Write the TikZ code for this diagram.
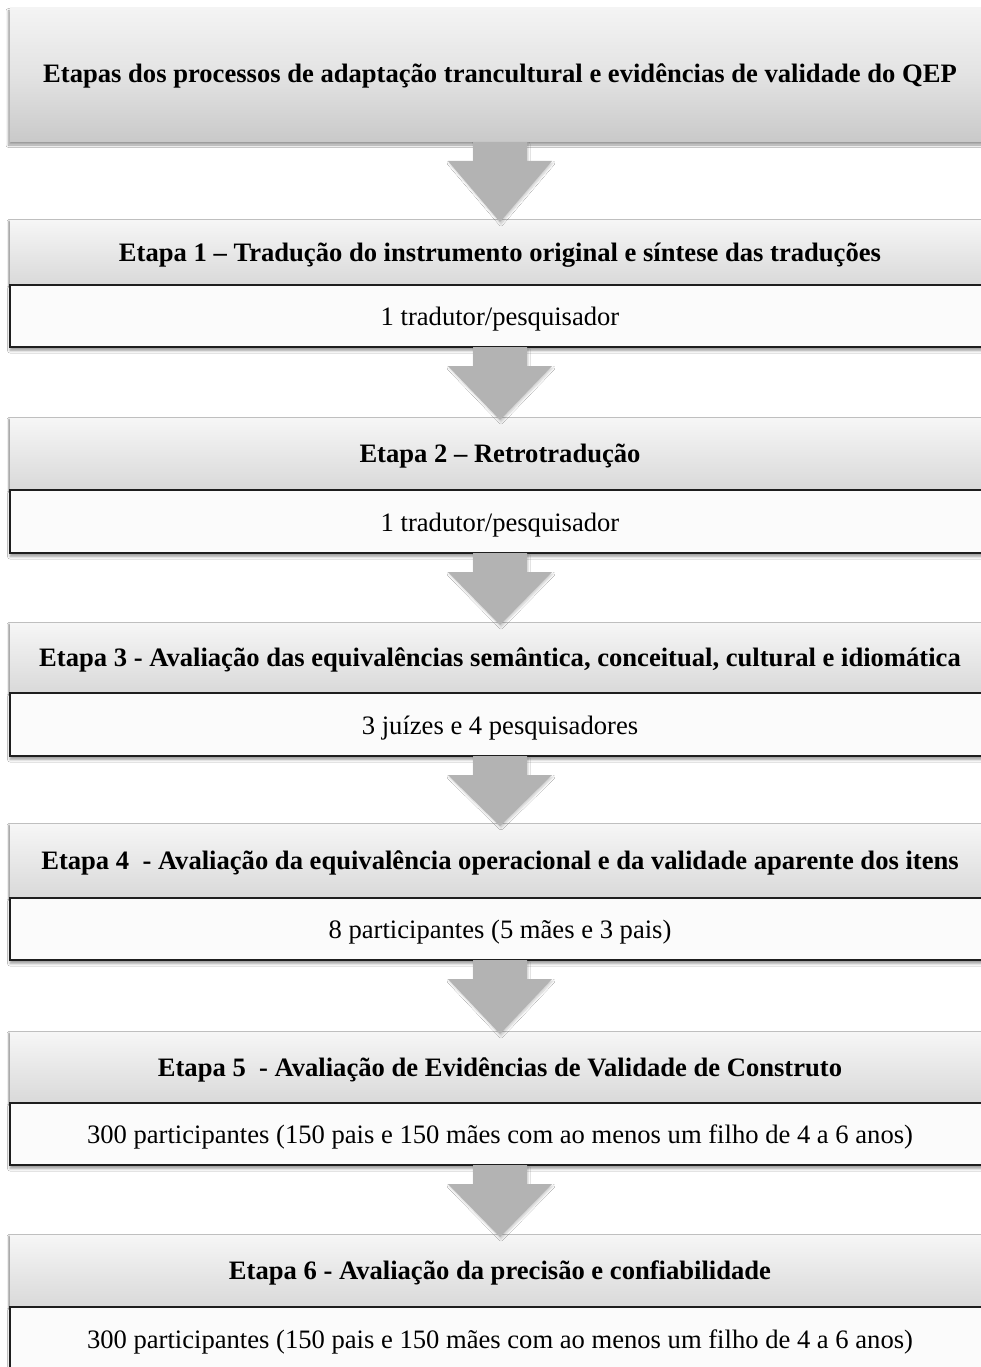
\documentclass[tikz,border=0pt]{standalone}
\usepackage{fontspec}
\setmainfont{Liberation Serif}
\usetikzlibrary{calc,shadows,shadows.blur}
\definecolor{ttop}{HTML}{F4F4F4}
\definecolor{tbot}{HTML}{C9C9C9}
\definecolor{htop}{HTML}{F6F6F6}
\definecolor{hbot}{HTML}{D9D9D9}
\definecolor{wfill}{HTML}{FBFBFB}
\definecolor{wline}{HTML}{1E1E1E}
\definecolor{afill}{HTML}{B3B3B3}
\newcommand{\flowarrow}[2]{%
  \path[bigarrow] ($(#1.south)+(-27,0)$) -- ($(#1.south)+(27,0)$) -- ($(#1.south)+(27,19)$)
    -- ($(#1.south)+(52,19)$) -- ($(#2.north)+(0,2)$) -- ($(#1.south)+(-52,19)$)
    -- ($(#1.south)+(-27,19)$) -- cycle;}
\begin{document}
\begin{tikzpicture}[x=1pt,y=-1pt,
  every node/.style={inner sep=0pt, outer sep=0pt},
  titlebox/.style={rectangle, anchor=north west, minimum width=980pt, minimum height=134pt,
    top color=ttop, bottom color=tbot, middle color=ttop!60!tbot,
    font=\fontsize{26.6}{30}\selectfont\bfseries, text height=23pt, text depth=7.5pt,
    blur shadow={shadow xshift=-1.5pt, shadow yshift=-3pt, shadow blur steps=6, shadow blur radius=2.5pt}},
  headbox/.style={rectangle, anchor=north west, minimum width=980pt, minimum height=#1,
    top color=htop, bottom color=hbot,
    font=\fontsize{26.6}{30}\selectfont\bfseries, text height=24pt, text depth=7pt,
    blur shadow={shadow xshift=-1.5pt, shadow yshift=-1pt, shadow blur steps=4, shadow blur radius=1.5pt}},
  whitebox/.style={rectangle, anchor=north west, minimum width=980pt, minimum height=#1,
    fill=wfill, draw=wline, line width=1.6pt,
    font=\fontsize{26.6}{30}\selectfont, text height=25pt, text depth=6pt,
    blur shadow={shadow xshift=0pt, shadow yshift=-3.5pt, shadow blur steps=6, shadow blur radius=2.5pt}},
  bigarrow/.style={fill=afill, draw=none,
    blur shadow={shadow xshift=1pt, shadow yshift=-2pt, shadow blur steps=5, shadow blur radius=2pt, shadow opacity=20}}
]
\useasboundingbox (0,0) rectangle (981,1367);
\clip (0,0) rectangle (981,1367);
\fill[white] (0,0) rectangle (981,1367);

% title
\node[titlebox] (t) at (10,8) {Etapas dos processos de adaptação trancultural e evidências de validade do QEP};

% stage 1
\node[headbox=65pt] (h1) at (10,220) {Etapa 1 -- Tradução do instrumento original e síntese das traduções};
\node[whitebox=62pt] (w1) at (10,285) {1 tradutor/pesquisador};
% stage 2
\node[headbox=72pt] (h2) at (10,418) {Etapa 2 -- Retrotradução};
\node[whitebox=63pt] (w2) at (10,490) {1 tradutor/pesquisador};
% stage 3
\node[headbox=70pt] (h3) at (10,623) {Etapa 3 - Avaliação das equivalências semântica, conceitual, cultural e idiomática};
\node[whitebox=63pt] (w3) at (10,693) {3 juízes e 4 pesquisadores};
% stage 4
\node[headbox=74pt] (h4) at (10,824) {Etapa 4\ \ - Avaliação da equivalência operacional e da validade aparente dos itens};
\node[whitebox=62pt] (w4) at (10,898) {8 participantes (5 mães e 3 pais)};
% stage 5
\node[headbox=71pt] (h5) at (10,1032) {Etapa 5\ \ - Avaliação de Evidências de Validade de Construto};
\node[whitebox=62pt] (w5) at (10,1103) {300 participantes (150 pais e 150 mães com ao menos um filho de 4 a 6 anos)};
% stage 6
\node[headbox=72pt] (h6) at (10,1235) {Etapa 6 - Avaliação da precisão e confiabilidade};
\node[whitebox=63pt] (w6) at (10,1307) {300 participantes (150 pais e 150 mães com ao menos um filho de 4 a 6 anos)};

% arrows
\flowarrow{t}{h1}
\flowarrow{w1}{h2}
\flowarrow{w2}{h3}
\flowarrow{w3}{h4}
\flowarrow{w4}{h5}
\flowarrow{w5}{h6}
\end{tikzpicture}
\end{document}
